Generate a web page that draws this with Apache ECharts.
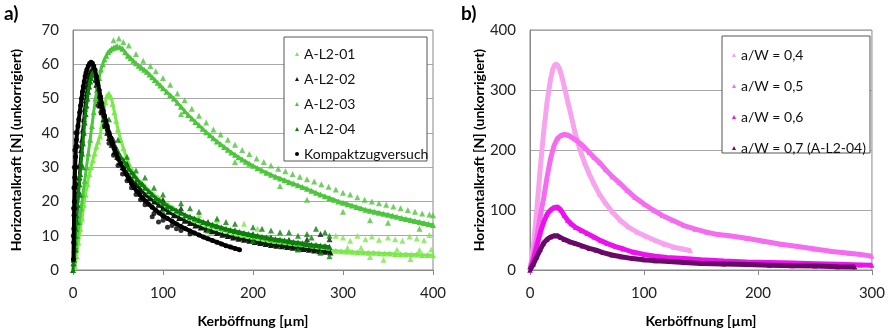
<!DOCTYPE html>
<html><head><meta charset="utf-8">
<script src="https://cdn.jsdelivr.net/npm/echarts@6/dist/echarts.min.js"></script>
<style>html,body{margin:0;padding:0;background:#fff}#c{width:888px;height:333px}</style>
</head><body><div id="c"></div>
<script>
// ---------- panel a) ----------
const seriesNamesA = ['A-L2-01','A-L2-02','A-L2-03','A-L2-04','Kompaktzugversuch'];
const xTicksA = [0,100,200,300,400];
const yTicksA = [0,10,20,30,40,50,60,70];

const l201 = [[2,1],[4,4],[6,8],[8,12],[10,15],[12,19],[14,22],[16,25],[18,28],[20,30],[22,32],[24,34],[26,36],[28,37.5],[30,39],[32,42],[34,46],[36,49],[38,51],[40,51.5],[42,50.5],[44,48.5],[46,46],[48,43.5],[50,41],[53,38],[56,35.5],[59,33],[62,31],[65,29.5],[68,28],[72,26.5],[76,25.5],[80,24.5],[85,23],[90,22],[95,21],[100,20],[106,19],[112,18],[118,17],[124,16],[130,15.3],[136,14.6],[142,14],[148,13.4],[154,12.8],[160,12.3],[166,11.8],[172,11.3],[178,10.8],[184,10.4],[190,10],[196,9.6],[202,9.2],[208,8.8],[214,8.5],[220,8.2],[226,7.9],[232,7.6],[238,7.3],[244,7],[250,6.8],[256,6.6],[262,6.4],[268,6.2],[274,6],[280,5.8],[286,5.7],[292,5.6],[298,5.5],[304,5.4],[310,5.3],[316,5.2],[322,5.1],[328,5],[334,5],[340,4.9],[346,4.8],[352,4.8],[358,4.7],[364,4.6],[370,4.6],[376,4.5],[382,4.5],[388,4.4],[394,4.4],[400,4.3]];
// scattered points around it
const l201Extra = [[190,13.5],[205,12],[160,14.5],[140,16],[292,10],[300,9.5],[308,8.5],[316,10],[325,9],[332,9.8],[340,8.8],[350,9.5],[358,9],[366,8.5],[374,9.8],[382,9.2],[390,8.7],[396,10.2],[345,3],[375,3.2],[320,6.5],[360,6],[398,6],[330,3.8],[305,6.5],[385,5.8]];

const l202 = [[1,3],[2,7],[3,11],[4,15],[5,19],[6,23],[7,27],[8,31],[9,35],[10,38],[11,41],[12,44],[13,47],[14,49.5],[15,51.5],[16,53.5],[17,55],[18,56.5],[19,57.5],[20,58],[21,58.5],[22,58.5],[23,58],[24,57],[25,55.5],[26,54],[27,52.5],[28,51],[29,49.5],[30,48],[32,46],[34,44],[36,42],[38,40],[40,38.5],[43,36.5],[46,34.5],[49,33],[52,31.5],[55,30],[58,29],[62,27.5],[66,26],[70,25],[75,23.5],[80,22],[85,21],[90,20],[95,19],[100,18],[106,17],[112,16],[118,15.2],[124,14.4],[130,13.7],[136,13],[142,12.4],[148,11.8],[154,11.3],[160,10.8],[166,10.3],[172,9.9],[178,9.5],[184,9.1],[190,8.8],[196,8.5],[202,8.2],[208,7.9],[214,7.6],[220,7.3],[226,7.1],[232,6.9],[238,6.7],[244,6.5],[250,6.3],[256,6.1],[262,5.9],[268,5.7],[274,5.5],[280,5.3],[286,5.1]];
const l202Extra = [[120,18],[180,11.5],[220,9.5],[260,9],[275,10.5],[285,9],[240,8.8],[200,10.5],[150,14],[100,20.5],[60,31],[45,38]];

const l203 = [[1,2],[3,6],[5,10],[7,14],[9,18],[11,22],[13,26],[15,30],[17,34],[19,38],[21,42],[23,46],[25,50],[27,53],[29,56],[31,58.5],[33,60],[35,61.5],[37,62.5],[39,63.5],[41,64],[43,64.5],[45,64.8],[47,65],[49,65.3],[52,65],[55,64.5],[58,63.5],[61,62.5],[64,61.8],[67,61],[70,60.3],[73,59.6],[76,59],[79,58.4],[82,57.8],[85,57],[88,56.2],[91,55.4],[94,54.6],[97,53.8],[100,53],[104,52],[108,51],[112,50],[116,48.8],[120,47.6],[124,46.4],[128,45.2],[132,44.2],[136,43.2],[140,42.2],[144,41.2],[148,40.2],[152,39.3],[156,38.4],[160,37.5],[164,36.7],[168,35.9],[172,35.1],[176,34.3],[180,33.6],[184,32.9],[188,32.2],[192,31.6],[196,31],[200,30.4],[205,29.7],[210,29],[215,28.4],[220,27.8],[225,27.2],[230,26.7],[235,26.2],[240,25.7],[245,25.2],[250,24.7],[255,24.2],[260,23.7],[265,23.1],[270,22.5],[275,22],[280,21.5],[285,21],[290,20.5],[295,20],[300,19.6],[305,19.2],[310,18.8],[315,18.4],[320,18],[325,17.6],[330,17.3],[335,17],[340,16.7],[345,16.4],[350,16.1],[355,15.8],[360,15.5],[365,15.2],[370,14.9],[375,14.6],[380,14.3],[385,14],[390,13.7],[395,13.4],[400,13.1]];
const l203Extra = [[45,67],[51,67.5],[56,66.5],[62,65.5],[70,63],[78,61],[86,59.5],[92,58],[100,56],[108,54],[116,51.5],[124,49.5],[132,47],[140,45],[148,43],[156,41],[164,39.5],[172,38],[180,36.5],[188,35],[196,33.8],[204,32.5],[212,31.5],[220,30.5],[228,29.5],[236,28.8],[244,28],[252,27.2],[260,26.5],[268,25.8],[276,25],[284,24.3],[292,23.5],[300,22.5],[308,22],[316,21.2],[324,20.5],[332,20],[340,19.5],[348,19],[356,18.5],[364,18],[372,17.5],[380,17],[388,16.5],[396,16.2],[400,16],[260,20.5],[330,14.5],[385,12],[300,17],[350,13.8],[230,24.5],[180,31.5],[120,45.5]];

const l204 = [[0,0],[0.5,2],[1,4],[1.5,6],[2,8],[2.5,10],[3,12],[3.5,14],[4,16],[5,19],[6,22],[7,25],[8,28],[9,31],[10,34],[11,37],[12,40],[13,43],[14,45.5],[15,48],[16,50],[17,52],[18,53.5],[19,55],[20,56],[21,57],[22,57.5],[23,58],[24,58],[25,57.5],[26,57],[27,56],[28,54.5],[29,53],[30,51.5],[31,50],[32,48.5],[33,47],[34,45.5],[35,44.5],[36,43.5],[38,42],[40,40.5],[42,39],[44,37.5],[46,36.5],[48,35.5],[50,34.5],[53,33],[56,32],[59,30.5],[62,29.5],[65,28.5],[68,27.5],[71,26.5],[74,25.5],[77,25],[80,24],[84,23],[88,22],[92,21],[96,20.3],[100,19.5],[105,18.7],[110,18],[115,17.3],[120,16.7],[125,16],[130,15.5],[135,15],[140,14.5],[145,14],[150,13.6],[155,13.2],[160,12.8],[165,12.4],[170,12],[175,11.7],[180,11.4],[185,11.1],[190,10.8],[195,10.5],[200,10.2],[205,10],[210,9.7],[215,9.5],[220,9.2],[225,9],[230,8.8],[235,8.6],[240,8.4],[245,8.2],[250,8],[255,7.8],[260,7.6],[265,7.4],[270,7.3],[275,7.1],[280,7],[285,6.8]];
const l204Extra = [[40,44],[50,38],[60,33],[80,27],[100,22],[120,19.5],[140,17],[160,15],[180,13.5],[200,12.5],[220,11.5],[240,11],[260,10.5],[280,11],[270,12],[250,10],[230,11],[100,17],[150,11.5],[200,8.5],[250,6],[285,4],[285,10],[5,14],[8,22],[11,30],[3,6],[70,29],[90,24],[130,18],[170,14],[210,12],[275,5],[265,9.5]];

const kompakt = [[0.5,3],[0.8,8],[1,12],[1.2,16],[1.5,20],[1.8,24],[2,27],[2.4,30],[2.8,33],[3.2,36],[3.8,38],[4.5,40],[5.5,42],[6.5,44],[7.5,46],[8.5,48],[9.5,50],[10.5,52],[11.5,53.5],[12.5,55],[13.5,56.5],[14.5,57.5],[15.5,58.5],[17,59.5],[18.5,60.2],[20,60.6],[21.5,60.3],[23,59.5],[24.5,58.3],[26,56.5],[27.5,54.5],[29,52.5],[30.5,50.5],[32,48.5],[33.5,46.5],[35,45],[36.5,43.5],[38,42],[40,40],[42,38.5],[44,37],[46,35.5],[48,34],[50,32.5],[53,31],[56,29.5],[59,28],[62,26.5],[65,25.2],[68,24],[71,23],[74,22],[77,21],[80,20.2],[84,19.2],[88,18.3],[92,17.4],[96,16.6],[100,15.8],[105,15],[110,14.2],[115,13.4],[120,12.7],[125,12],[130,11.4],[135,10.8],[140,10.2],[145,9.6],[150,9.1],[155,8.6],[160,8.1],[165,7.6],[170,7.1],[175,6.7],[180,6.3],[185,5.9]];
const kompaktExtra = [[0.3,10],[0.6,18],[1,24],[1.5,30],[2,35],[3,40],[4,30],[3,25],[5,36],[2,18],[28,48],[31,46],[35,42],[40,37],[45,33.5],[50,30.5],[55,28],[60,26],[65,24],[70,22],[75,20.5],[80,19],[90,16.5],[100,14.5],[110,13],[120,11.5],[95,14],[105,12.5],[88,15.5],[115,12],[130,10.5]];

// ---------- panel b) ----------
const seriesNamesB = ['a/W = 0,4','a/W = 0,5','a/W = 0,6','a/W = 0,7 (A-L2-04)'];
const xTicksB = [0,100,200,300];
const yTicksB = [0,100,200,300,400];

const aw04 = [[0,0],[3,40],[6,100],[9,170],[12,230],[15,280],[18,318],[20,335],[22,343],[24,342],[26,335],[28,322],[30,306],[33,282],[36,258],[39,233],[42,212],[45,194],[48,178],[52,160],[56,144],[61,126],[66,112],[72,97],[79,83],[86,72],[94,63],[102,56],[110,49],[118,43],[126,38],[134,35],[141,32]];
const aw05 = [[0,0],[3,25],[6,55],[9,90],[12,120],[15,155],[18,185],[21,207],[24,219],[27,224],[30,226],[33,225],[36,222],[40,217],[44,211],[48,204],[52,196],[56,188],[61,179],[66,168],[72,156],[78,146],[85,133],[92,121],[100,110],[108,100],[116,91],[125,83],[135,74],[145,68],[155,63],[165,59],[175,57],[190,53],[205,48],[220,43],[235,39],[250,35],[265,31],[280,28],[290,26],[300,23]];
const aw06 = [[0,0],[3,18],[6,40],[9,62],[12,80],[15,93],[18,100],[21,104],[24,105],[27,100],[30,91],[33,83],[36,77],[40,71],[45,66],[50,61],[56,55],[62,49],[68,44],[75,39],[82,35],[90,30],[100,26],[110,23],[120,21],[135,19],[150,17],[170,15],[190,13.5],[210,12.5],[230,11.5],[250,10.5],[270,9.5],[290,8.5],[300,8]];
const aw07 = [[0,0],[3,10],[6,22],[9,34],[12,45],[15,51],[18,55],[21,57],[24,57],[27,54],[30,51],[35,47],[40,44],[46,40],[52,36],[58,33],[64,29],[72,25],[80,22],[90,19],[100,17],[110,15.5],[122,14],[135,12.5],[150,11],[170,10],[190,9],[210,8],[230,7],[250,6.5],[270,5.5],[285,5]];

const colorsA = ['#7be84c','#0f1f0f','#4cc63a','#0b7f0b','#000000'];
const colorsB = ['#f7a3ee','#f56cf0','#ee10ee','#6a0a68'];

const FONT = 'Lato, "Open Sans", sans-serif';
const chart = echarts.init(document.getElementById('c'), null, {renderer:'canvas'});

function xAxisCfg(gi, max, ticks) {
  return {gridIndex: gi, type:'value', min:0, max:max, interval:100,
    name:'Kerböffnung [µm]', nameLocation:'middle', nameGap:44,
    nameTextStyle:{fontFamily:FONT, fontWeight:'bold', fontSize:14, color:'#000'},
    axisLine:{show:true, lineStyle:{color:'#888', width:1}},
    axisTick:{show:true, length:5, lineStyle:{color:'#888'}},
    axisLabel:{fontFamily:FONT, fontSize:15, color:'#222', margin:16, formatter:v=>ticks.includes(v)?String(v):''},
    splitLine:{show:false}};
}
function yAxisCfg(gi, max, interval, ticks, gap) {
  return {gridIndex: gi, type:'value', min:0, max:max, interval:interval,
    name:'Horizontalkraft [N] (unkorrigiert)', nameLocation:'middle', nameGap:gap, nameRotate:90,
    nameTextStyle:{fontFamily:FONT, fontWeight:'bold', fontSize:14, color:'#000'},
    axisLine:{show:true, lineStyle:{color:'#888', width:1}},
    axisTick:{show:false},
    axisLabel:{fontFamily:FONT, fontSize:15, color:'#222', margin:14, formatter:v=>ticks.includes(v)?String(v):''},
    splitLine:{show:true, lineStyle:{color:'#a8a8a8', width:1}}};
}

const mainA = [l201, l202, l203, l204, kompakt];
const extraA = [l201Extra, l202Extra, l203Extra, l204Extra, kompaktExtra];
const dataB = [aw04, aw05, aw06, aw07];

const series = [];
mainA.forEach((d,i)=>{
  const sym = i===4?'circle':'triangle';
  series.push({name:seriesNamesA[i], type:'line', xAxisIndex:0, yAxisIndex:0,
    symbol:sym, symbolSize: i===4?5:6, showSymbol:true, showAllSymbol:true,
    lineStyle:{color:colorsA[i], width: i===4?4:3}, itemStyle:{color:colorsA[i]},
    data:d, z:2+i, silent:true});
  series.push({name:seriesNamesA[i], type:'scatter', xAxisIndex:0, yAxisIndex:0,
    symbol:sym, symbolSize: i===4?5:6,
    itemStyle:{color:colorsA[i]}, data:extraA[i], z:2+i, silent:true});
});
dataB.forEach((d,i)=>{
  series.push({name:seriesNamesB[i], type:'line', xAxisIndex:1, yAxisIndex:1,
    symbol:'triangle', symbolSize:5, showSymbol:true, showAllSymbol:true,
    lineStyle:{color:colorsB[i], width:5}, itemStyle:{color:colorsB[i]},
    data:d, z:2+i, silent:true});
});

chart.setOption({
  animation:false,
  backgroundColor:'#fff',
  grid:[
    {left:73, top:30, width:360, height:248, show:true, borderColor:'#888', borderWidth:1, backgroundColor:'transparent'},
    {left:530, top:30, width:343, height:248, show:true, borderColor:'#888', borderWidth:1, backgroundColor:'transparent'}
  ],
  xAxis:[xAxisCfg(0,400,xTicksA), xAxisCfg(1,300,xTicksB)],
  yAxis:[yAxisCfg(0,70,10,yTicksA,50), yAxisCfg(1,400,100,yTicksB,44)],
  legend:[
    {data:seriesNamesA.map((n,i)=>({name:n, icon: i===4?'circle':'triangle'})), orient:'vertical', left:290, top:41,
      itemWidth:4, itemHeight:4, itemGap:9, selectedMode:false, z:100,
      textStyle:{fontFamily:FONT, fontSize:14, color:'#111', lineHeight:16}},
    {data:seriesNamesB.map(n=>({name:n, icon:'triangle'})), orient:'vertical', left:727, top:42,
      itemWidth:4, itemHeight:4, itemGap:15, selectedMode:false, z:100,
      textStyle:{fontFamily:FONT, fontSize:14, color:'#111', lineHeight:16}}
  ],
  graphic:[
    {type:'rect', shape:{x:284, y:37, width:143, height:124}, style:{fill:'#fff', stroke:'#555', lineWidth:1}, z:50},
    {type:'rect', shape:{x:722, y:36, width:148, height:117}, style:{fill:'#fff', stroke:'#555', lineWidth:1}, z:50},
    {type:'text', left:4, top:4, style:{text:'a)', fontFamily:FONT, fontWeight:'bold', fontSize:19, fill:'#000'}, z:60},
    {type:'text', left:461, top:4, style:{text:'b)', fontFamily:FONT, fontWeight:'bold', fontSize:19, fill:'#000'}, z:60}
  ],
  series:series
});
</script></body></html>
